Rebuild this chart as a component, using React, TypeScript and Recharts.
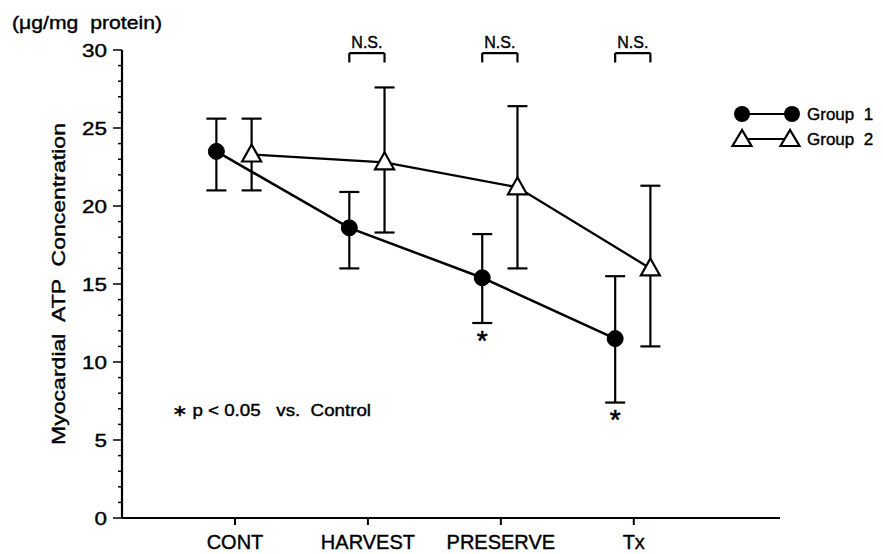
import { ComposedChart, Line, XAxis, YAxis, ErrorBar, ReferenceLine, ReferenceDot, Legend } from 'recharts';

const categories = ['CONT', 'HARVEST', 'PRESERVE', 'Tx'];

const group1Mean = [23.5, 18.6, 15.4, 11.5];
const group1Upper = [25.6, 20.9, 18.2, 15.5];
const group1Lower = [21.0, 16.0, 12.5, 7.4];

const group2Mean = [23.3, 22.8, 21.2, 16.0];
const group2Upper = [25.6, 27.6, 26.4, 21.3];
const group2Lower = [21.0, 18.3, 16.0, 11.0];

// which categories carry an N.S. bracket / a * mark under group 1
const nsCategories = ['HARVEST', 'PRESERVE', 'Tx'];
const starCategories = ['PRESERVE', 'Tx'];

const yTicks = Array.from({ length: 31 }, (_, i) => i);

const OFF1 = -0.14;
const OFF2 = 0.125;
const FONT = 'Arial, "Liberation Sans", Helvetica, sans-serif';

const build = (mean: number[], upper: number[], lower: number[], off: number) =>
    categories.map((c, i) => ({
        x: i + 1 + off,
        name: c,
        value: mean[i],
        err: [mean[i] - lower[i], upper[i] - mean[i]]
    }));

const data1 = build(group1Mean, group1Upper, group1Lower, OFF1);
const data2 = build(group2Mean, group2Upper, group2Lower, OFF2);

// text squeezed/stretched to the width it has in the scan, a bit heavier like the print
const SText = ({ x, y, size, len, anchor = 'start', rotate = 0, children }: any) => (
    <text
        x={x}
        y={y}
        fontSize={size}
        fontFamily={FONT}
        fill="#000"
        stroke="#000"
        strokeWidth={0.4}
        textAnchor={anchor}
        dominantBaseline="central"
        textLength={len}
        lengthAdjust={len ? 'spacingAndGlyphs' : undefined}
        transform={rotate ? `rotate(${rotate} ${x} ${y})` : undefined}
        style={{ whiteSpace: 'pre' }}
    >
        {children}
    </text>
);

const Circle = (props: any) => {
    const { cx, cy } = props;
    if (cx == null || cy == null) return null;
    return <circle cx={cx} cy={cy} r={8} fill="#000" stroke="#000" />;
};

const Triangle = (props: any) => {
    const { cx, cy } = props;
    if (cx == null || cy == null) return null;
    return (
        <polygon
            points={`${cx},${cy - 10} ${cx - 9.5},${cy + 7} ${cx + 9.5},${cy + 7}`}
            fill="#fff"
            stroke="#000"
            strokeWidth={2.2}
        />
    );
};

const YTick = (props: any) => {
    const { x, y, payload } = props;
    const major = payload.value % 5 === 0;
    const label = String(payload.value);
    return (
        <g>
            <line x1={x - (major ? 9 : 4)} x2={x} y1={y} y2={y} stroke="#000" strokeWidth={1.5} />
            {major && (
                <SText x={x - 15} y={y} size={19} len={label.length * 12.5} anchor="end">
                    {label}
                </SText>
            )}
        </g>
    );
};

const XTick = (props: any) => {
    const { x, y, payload } = props;
    return (
        <SText x={x} y={y + 14} size={20} anchor="middle">
            {categories[payload.value - 1] ?? ''}
        </SText>
    );
};

const LegendBox = () => (
    <svg width={160} height={50}>
        <line x1={17} x2={67} y1={14} y2={14} stroke="#000" strokeWidth={2.2} />
        <circle cx={17} cy={14} r={8} fill="#000" />
        <circle cx={67} cy={14} r={8} fill="#000" />
        <SText x={82} y={14} size={17}>Group  1</SText>
        <line x1={17} x2={65} y1={39} y2={39} stroke="#000" strokeWidth={2.2} />
        <polygon points="17,30 7.5,46 26.5,46" fill="#fff" stroke="#000" strokeWidth={2.2} />
        <polygon points="65,30 55.5,46 74.5,46" fill="#fff" stroke="#000" strokeWidth={2.2} />
        <SText x={82} y={39} size={17}>Group  2</SText>
    </svg>
);

const App = () => {
    return (
        <div style={{ position: 'absolute', left: 0, top: 0, width: 883, height: 554, background: '#fff' }}>
            <ComposedChart width={883} height={554} margin={{ top: 50, right: 103, bottom: 0, left: 0 }}>
                <XAxis
                    type="number"
                    dataKey="x"
                    domain={[0.15, 5.1]}
                    ticks={[1, 2, 3, 4]}
                    height={36}
                    stroke="#000"
                    strokeWidth={2}
                    tickSize={7}
                    tickMargin={3}
                    tick={<XTick />}
                    allowDataOverflow
                />
                <YAxis
                    type="number"
                    domain={[0, 30]}
                    ticks={yTicks}
                    interval={0}
                    width={122}
                    stroke="#000"
                    strokeWidth={2.2}
                    tickLine={false}
                    tickSize={0}
                    tickMargin={0}
                    tick={<YTick />}
                />
                <Legend
                    layout="horizontal"
                    verticalAlign="middle"
                    align="center"
                    content={() => <LegendBox />}
                    wrapperStyle={{ position: 'absolute', left: 725, top: 100, width: 160, height: 50 }}
                />
                <Line
                    data={data1}
                    dataKey="value"
                    stroke="#000"
                    strokeWidth={2.5}
                    dot={<Circle />}
                    activeDot={false}
                    isAnimationActive={false}
                    legendType="none"
                >
                    <ErrorBar dataKey="err" width={10} stroke="#000" strokeWidth={2.2} direction="y" />
                </Line>
                <Line
                    data={data2}
                    dataKey="value"
                    stroke="#000"
                    strokeWidth={2.3}
                    dot={<Triangle />}
                    activeDot={false}
                    isAnimationActive={false}
                    legendType="none"
                >
                    <ErrorBar dataKey="err" width={10} stroke="#000" strokeWidth={2.2} direction="y" />
                </Line>
                {nsCategories.map((c) => {
                    const i = categories.indexOf(c) + 1;
                    const a = i + OFF1;
                    const b = i + OFF2;
                    return [
                        <ReferenceLine
                            key={c + 'h'}
                            segment={[{ x: a, y: 29.8 }, { x: b, y: 29.8 }]}
                            stroke="#000"
                            strokeWidth={2.2}
                            label={{ value: 'N.S.', position: 'top', fontSize: 16, fill: '#000', stroke: '#000', strokeWidth: 0.4, fontFamily: FONT, offset: 5 }}
                        />,
                        <ReferenceLine key={c + 'l'} segment={[{ x: a, y: 29.8 }, { x: a, y: 29.2 }]} stroke="#000" strokeWidth={2.2} />,
                        <ReferenceLine key={c + 'r'} segment={[{ x: b, y: 29.8 }, { x: b, y: 29.2 }]} stroke="#000" strokeWidth={2.2} />
                    ];
                })}
                {starCategories.map((c) => {
                    const i = categories.indexOf(c);
                    return (
                        <ReferenceDot
                            key={c + 's'}
                            x={i + 1 + OFF1}
                            y={group1Lower[i]}
                            r={0}
                            stroke="none"
                            label={{ value: '*', position: 'bottom', fontSize: 28, fill: '#000', stroke: '#000', strokeWidth: 0.6, fontFamily: FONT, offset: 7 }}
                        />
                    );
                })}
            </ComposedChart>
            <svg width={883} height={554} style={{ position: 'absolute', left: 0, top: 0, pointerEvents: 'none' }}>
                <SText x={12} y={22} size={19} len={150}>(μg/mg  protein)</SText>
                <SText x={59} y={284} size={18} len={322} anchor="middle" rotate={-90}>
                    Myocardial  ATP  Concentration
                </SText>
                <SText x={172} y={410} size={16} len={199}>∗ p &lt; 0.05   vs.  Control</SText>
            </svg>
        </div>
    );
};

export default App;
